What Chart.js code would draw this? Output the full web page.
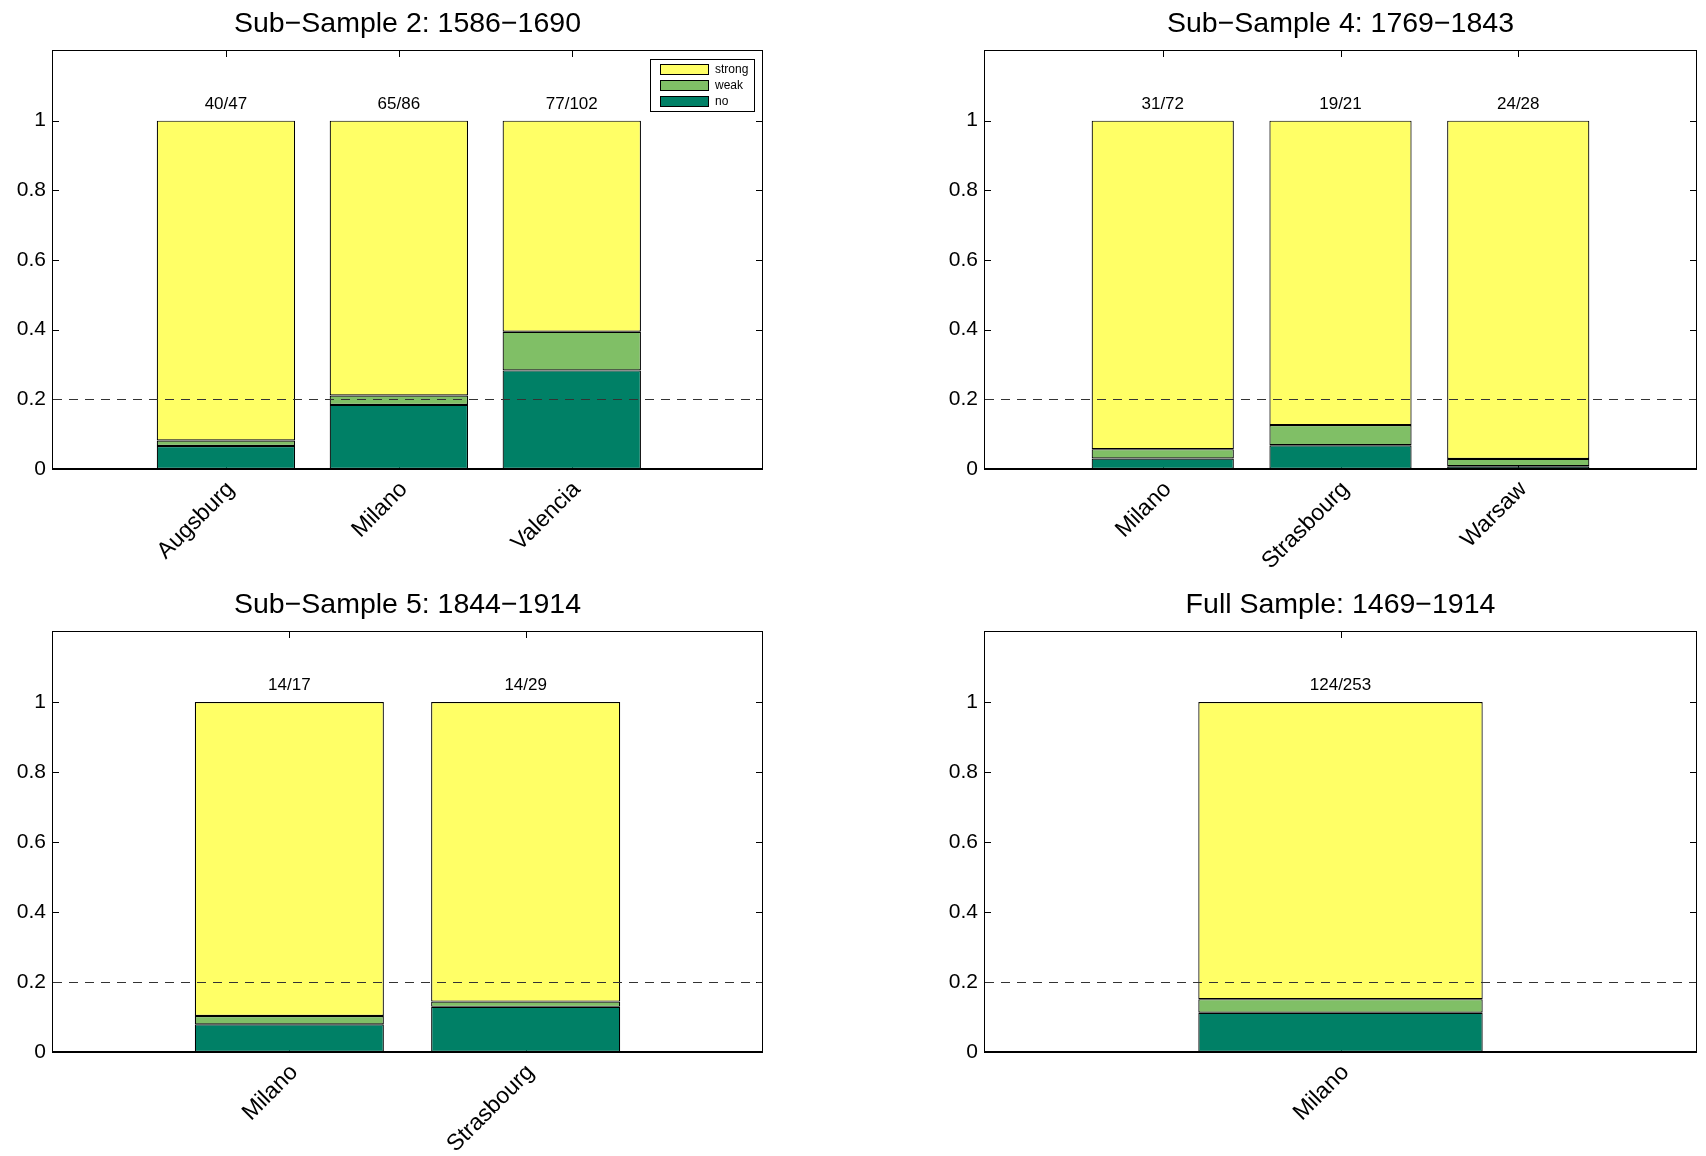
<!DOCTYPE html>
<html>
<head>
<meta charset="utf-8">
<script src="https://cdn.jsdelivr.net/npm/chart.js@4.4.1/dist/chart.umd.min.js"></script>
<style>
  html, body { margin: 0; padding: 0; background: #ffffff; }
  body { width: 1706px; height: 1156px; position: relative; overflow: hidden; }
  .panel { position: absolute; width: 853px; height: 578px; }
  .panel canvas { display: block; }
</style>
</head>
<body>
<div class="panel" style="left:0;top:0"><canvas id="p1" width="853" height="578"></canvas></div>
<div class="panel" style="left:853px;top:0"><canvas id="p2" width="853" height="578"></canvas></div>
<div class="panel" style="left:0;top:578px"><canvas id="p3" width="853" height="578"></canvas></div>
<div class="panel" style="left:853px;top:578px"><canvas id="p4" width="853" height="578"></canvas></div>
<script>
// ---- data ----------------------------------------------------------------
const seriesNames = ['no', 'weak', 'strong'];
const yTickValues = [0, 0.2, 0.4, 0.6, 0.8, 1];
const threshold = 0.2;

// Sub-Sample 2: 1586-1690
const titleS2 = 'Sub\u2212Sample 2: 1586\u22121690';
const citiesS2 = ['Augsburg', 'Milano', 'Valencia'];
const noS2 = [0.066, 0.184, 0.283];
const weakS2 = [0.016, 0.027, 0.111];
const strongS2 = [0.918, 0.789, 0.606];
const countsS2 = ['40/47', '65/86', '77/102'];

// Sub-Sample 4: 1769-1843
const titleS4 = 'Sub\u2212Sample 4: 1769\u22121843';
const citiesS4 = ['Milano', 'Strasbourg', 'Warsaw'];
const noS4 = [0.030, 0.068, 0.008];
const weakS4 = [0.027, 0.058, 0.021];
const strongS4 = [0.943, 0.874, 0.971];
const countsS4 = ['31/72', '19/21', '24/28'];

// Sub-Sample 5: 1844-1914
const titleS5 = 'Sub\u2212Sample 5: 1844\u22121914';
const citiesS5 = ['Milano', 'Strasbourg'];
const noS5 = [0.079, 0.129];
const weakS5 = [0.024, 0.015];
const strongS5 = [0.897, 0.856];
const countsS5 = ['14/17', '14/29'];

// Full Sample: 1469-1914
const titleFull = 'Full Sample: 1469\u22121914';
const citiesFull = ['Milano'];
const noFull = [0.112];
const weakFull = [0.039];
const strongFull = [0.849];
const countsFull = ['124/253'];

// ---- styling -------------------------------------------------------------
const FONT = '"Liberation Sans", Arial, Helvetica, sans-serif';
const COLORS = { no: '#008066', weak: '#80BF66', strong: '#FFFF66' };
const CANVAS_W = 853, CANVAS_H = 578, XAXIS_H = 100;

// MATLAB-style frame: inward ticks, box, reference line, count labels, legend
const framePlugin = {
  id: 'frame',
  beforeDatasetsDraw(chart, args, opts) {
    const { ctx, chartArea: a, scales: { x, y } } = chart;
    const tl = 6;
    ctx.save();
    ctx.strokeStyle = '#000';
    ctx.lineWidth = 1;
    ctx.beginPath();
    y.ticks.forEach(t => {
      const py = Math.round(y.getPixelForValue(t.value)) + 0.5;
      ctx.moveTo(a.left, py); ctx.lineTo(a.left + tl, py);
      ctx.moveTo(a.right, py); ctx.lineTo(a.right - tl, py);
    });
    opts.cities.forEach((c, i) => {
      const px = Math.round(x.getPixelForValue(i + 1)) + 0.5;
      ctx.moveTo(px, a.top); ctx.lineTo(px, a.top + tl);
      ctx.moveTo(px, a.bottom); ctx.lineTo(px, a.bottom - tl);
    });
    ctx.stroke();
    ctx.restore();
  },
  afterDatasetsDraw(chart, args, opts) {
    const { ctx, chartArea: a, scales: { y } } = chart;
    ctx.save();
    // dashed reference line
    const ty = Math.round(y.getPixelForValue(threshold)) + 0.5;
    ctx.strokeStyle = '#333';
    ctx.lineWidth = 1;
    ctx.setLineDash([9, 7]);
    ctx.beginPath();
    ctx.moveTo(a.left, ty); ctx.lineTo(a.right, ty);
    ctx.stroke();
    ctx.setLineDash([]);
    // axes box and bar baseline
    ctx.strokeStyle = '#000';
    ctx.strokeRect(a.left - 0.5, a.top - 0.5, a.right - a.left + 1, a.bottom - a.top + 1);
    ctx.fillStyle = '#000';
    ctx.fillRect(a.left - 1, a.bottom - 1, a.right - a.left + 2, 2);
    // counts above the bars
    const topMeta = chart.getDatasetMeta(chart.data.datasets.length - 1);
    ctx.font = '17px ' + FONT;
    ctx.textAlign = 'center';
    ctx.textBaseline = 'alphabetic';
    opts.counts.forEach((txt, i) => {
      const bar = topMeta.data[i];
      ctx.fillText(txt, bar.x, bar.y - 12);
    });
    // legend
    if (opts.legend) {
      const bw = 104, bh = 52, bx = a.right - 8 - bw, by = a.top + 8;
      ctx.fillStyle = '#fff';
      ctx.fillRect(bx, by, bw, bh);
      ctx.strokeStyle = '#000';
      ctx.strokeRect(bx + 0.5, by + 0.5, bw, bh);
      const items = chart.data.datasets.slice().reverse();
      ctx.font = '12px ' + FONT;
      ctx.textAlign = 'left';
      ctx.textBaseline = 'middle';
      items.forEach((ds, k) => {
        const cy = by + 10.5 + k * 16;
        ctx.fillStyle = ds.backgroundColor;
        ctx.fillRect(bx + 10, cy - 5.5, 49, 11);
        ctx.strokeStyle = '#000';
        ctx.strokeRect(bx + 10.5, Math.round(cy - 5.5) + 0.5, 48, 10);
        ctx.fillStyle = '#000';
        ctx.fillText(ds.label, bx + 65, cy + 0.5);
      });
    }
    ctx.restore();
  }
};

function makePanel(id, title, cities, no, weak, strong, counts, xMax, area, titlePad, legend) {
  const series = [no, weak, strong];
  const datasets = seriesNames.map((name, s) => ({
    label: name,
    data: series[s].map((v, i) => ({ x: i + 1, y: v })),
    backgroundColor: COLORS[name],
    borderColor: '#000',
    borderWidth: 1.2,
    borderSkipped: false,
    barPercentage: 0.8,
    categoryPercentage: 1,
    stack: 'share'
  }));
  return new Chart(document.getElementById(id), {
    type: 'bar',
    data: { datasets },
    options: {
      responsive: false,
      animation: false,
      layout: {
        padding: {
          left: 0,
          right: CANVAS_W - area.right,
          top: 0,
          bottom: CANVAS_H - area.bottom - XAXIS_H
        }
      },
      scales: {
        x: {
          type: 'linear',
          stacked: true,
          offset: false,
          min: 0,
          max: xMax,
          grid: { display: false, drawTicks: false, offset: false },
          border: { display: false },
          afterBuildTicks: s => {
            const n = Math.floor(xMax);
            s.ticks = Array.from({ length: n + 1 }, (_, i) => ({ value: i }));
          },
          afterFit: s => {
            s.height = XAXIS_H;
            s.paddingLeft = 0;
            s.paddingRight = 0;
          },
          ticks: {
            autoSkip: false,
            minRotation: 45,
            maxRotation: 45,
            padding: 7,
            labelOffset: 5,
            color: '#000',
            font: { family: FONT, size: 23 },
            callback: v => cities[v - 1] || ''
          }
        },
        y: {
          stacked: true,
          min: 0,
          max: 1.2,
          grid: { display: false, drawTicks: false },
          border: { display: false },
          afterBuildTicks: s => { s.ticks = yTickValues.map(v => ({ value: v })); },
          afterFit: s => { s.width = area.left; },
          ticks: {
            padding: 7,
            color: '#000',
            font: { family: FONT, size: 21 },
            callback: v => String(v)
          }
        }
      },
      plugins: {
        legend: { display: false },
        tooltip: { enabled: false },
        title: {
          display: true,
          fullSize: false,
          text: title,
          color: '#000',
          font: { family: FONT, size: 28.5, weight: 'normal', lineHeight: 1.2 },
          padding: titlePad
        },
        frame: { cities, counts, legend }
      }
    },
    plugins: [framePlugin]
  });
}

makePanel('p1', titleS2, citiesS2, noS2, weakS2, strongS2, countsS2, 4.1,
  { left: 53, right: 762, bottom: 469 }, { top: 6.7, bottom: 10.1 }, true);
makePanel('p2', titleS4, citiesS4, noS4, weakS4, strongS4, countsS4, 4,
  { left: 132, right: 843, bottom: 469 }, { top: 6.7, bottom: 10.1 }, false);
makePanel('p3', titleS5, citiesS5, noS5, weakS5, strongS5, countsS5, 3,
  { left: 53, right: 762, bottom: 474 }, { top: 10, bottom: 9.8 }, false);
makePanel('p4', titleFull, citiesFull, noFull, weakFull, strongFull, countsFull, 2,
  { left: 132, right: 843, bottom: 474 }, { top: 10, bottom: 9.8 }, false);
</script>
</body>
</html>
